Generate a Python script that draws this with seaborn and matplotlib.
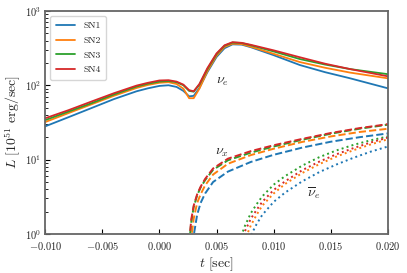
import numpy as np
import pandas as pd
import matplotlib
matplotlib.use("Agg")
import matplotlib.pyplot as plt
import seaborn as sns
from matplotlib.ticker import FuncFormatter

sns.set_style("ticks")
plt.rcParams.update({
    'font.family': 'serif',
    'font.serif': ['cmr10', 'DejaVu Serif'],
    'mathtext.fontset': 'cm',
    'axes.formatter.use_mathtext': True,
    'axes.unicode_minus': False,
})

sn_names = ['SN1', 'SN2', 'SN3', 'SN4']
sn_colors = ['#1f77b4', '#ff7f0e', '#2ca02c', '#d62728']

# nu_e luminosity (solid)
t_nue = [-0.010, -0.008, -0.006, -0.004, -0.002, -0.001, 0.0, 0.0008, 0.0015,
         0.0021, 0.0026, 0.0030, 0.0035, 0.0042, 0.0050, 0.0057, 0.0064, 0.0072,
         0.0080, 0.0100, 0.0123, 0.0145, 0.0167, 0.0200]
nue_sn1 = [28, 37, 49, 65, 83, 91, 98, 100, 95, 84, 71, 72, 92, 150, 240, 315, 355, 352, 325, 254, 187, 150, 124, 91]
nue_sn2 = [32, 42, 55, 72, 92, 101, 108, 110, 104, 90, 67, 67, 90, 155, 250, 328, 362, 358, 330, 265, 205, 172, 148, 124]
nue_sn3 = [34, 44, 57, 75, 96, 105, 112, 114, 110, 100, 84, 82, 102, 165, 262, 340, 375, 370, 345, 285, 225, 190, 165, 141]
nue_sn4 = [36, 46, 60, 78, 99, 108, 116, 117, 112, 102, 86, 83, 104, 170, 268, 345, 380, 372, 350, 295, 238, 195, 165, 132]

# nu_x luminosity (dashed)
t_nux = [0.0026, 0.0028, 0.0030, 0.0033, 0.0036, 0.0040, 0.0047, 0.0060, 0.0080,
         0.0100, 0.0125, 0.0150, 0.0175, 0.0200]
nux_sn1 = [0.2, 0.45, 0.95, 1.8, 2.6, 3.5, 5.0, 6.9, 9.3, 11.6, 14.5, 17.4, 20, 22.5]
nux_sn2 = [0.4, 0.9, 1.6, 2.6, 3.4, 4.5, 6.3, 8.8, 11.5, 14, 17.3, 20.5, 23.5, 26]
nux_sn3 = [0.75, 1.5, 2.3, 3.3, 4.2, 5.3, 7.3, 9.8, 12.4, 15.0, 18.5, 22.3, 26, 29.5]
nux_sn4 = [0.8, 1.6, 2.4, 3.4, 4.3, 5.5, 7.6, 10.3, 13, 15.6, 19, 22.8, 26.5, 30]

# anti nu_e luminosity (dotted)
t_anue = [0.0070, 0.0075, 0.0080, 0.0085, 0.0090, 0.0100, 0.0110, 0.0125, 0.0140,
          0.0155, 0.0170, 0.0185, 0.0200]
anue_sn1 = [0.4, 0.65, 0.95, 1.35, 1.8, 2.7, 3.6, 5.1, 6.8, 8.6, 10.6, 12.8, 15]
anue_sn2 = [0.5, 0.85, 1.3, 1.8, 2.4, 3.5, 4.7, 6.6, 8.7, 11, 13.4, 16, 18.8]
anue_sn3 = [0.8, 1.3, 1.9, 2.5, 3.2, 4.6, 6.0, 8.3, 10.8, 13.3, 15.8, 18.2, 20.5]
anue_sn4 = [0.7, 1.1, 1.6, 2.1, 2.7, 3.9, 5.1, 7.2, 9.4, 11.8, 14.3, 17, 19.8]


def long_df(t, series):
    rows = []
    for name, vals in zip(sn_names, series):
        rows.append(pd.DataFrame({'t': t, 'L': vals, 'SN': name}))
    return pd.concat(rows, ignore_index=True)


df_nue = long_df(t_nue, [nue_sn1, nue_sn2, nue_sn3, nue_sn4])
df_nux = long_df(t_nux, [nux_sn1, nux_sn2, nux_sn3, nux_sn4])
df_anue = long_df(t_anue, [anue_sn1, anue_sn2, anue_sn3, anue_sn4])

fig = plt.figure(figsize=(4.07, 2.73), dpi=100)
ax = fig.add_axes([0.111, 0.143, 0.842, 0.817])

pal = dict(zip(sn_names, sn_colors))
sns.lineplot(data=df_nue, x='t', y='L', hue='SN', palette=pal, ax=ax,
             linewidth=1.3, legend=True)
sns.lineplot(data=df_nux, x='t', y='L', hue='SN', palette=pal, ax=ax,
             linewidth=1.4, linestyle='--', legend=False)
sns.lineplot(data=df_anue, x='t', y='L', hue='SN', palette=pal, ax=ax,
             linewidth=1.4, linestyle=':', legend=False)

ax.set_yscale('log')
ax.set_xlim(-0.010, 0.020)
ax.set_ylim(1, 1000)
ax.set_xticks([-0.010, -0.005, 0.0, 0.005, 0.010, 0.015, 0.020])
ax.xaxis.set_major_formatter(FuncFormatter(lambda v, p: f'${v:.3f}$'))

ax.set_xlabel(r'$t\ [\mathrm{sec}]$', fontsize=10, labelpad=2)
ax.set_ylabel(r'$L\ [10^{51}\ \mathrm{erg/sec}]$', fontsize=10, labelpad=2)

ax.tick_params(which='both', direction='in', labelsize=7.5, color='black')
ax.tick_params(which='major', length=3.5, width=0.8)
ax.tick_params(which='minor', length=2, width=0.6)
ax.tick_params(axis='x', pad=4.5)
ax.tick_params(axis='y', pad=3)
for s in ax.spines.values():
    s.set_color('#666666')
    s.set_linewidth(1.3)

ax.text(0.00548, 110, r'$\nu_e$', fontsize=10, ha='center', va='center')
ax.text(0.00548, 12.4, r'$\nu_x$', fontsize=10, ha='center', va='center')
ax.text(0.01353, 3.5, r'$\overline{\nu}_e$', fontsize=10, ha='center', va='center')

leg = ax.legend(loc='upper left', fontsize=7, title=None, frameon=True,
                borderpad=0.6, labelspacing=0.6, handlelength=2.0)
leg.get_frame().set_edgecolor('#cccccc')

fig.savefig('out.png', dpi=100)
